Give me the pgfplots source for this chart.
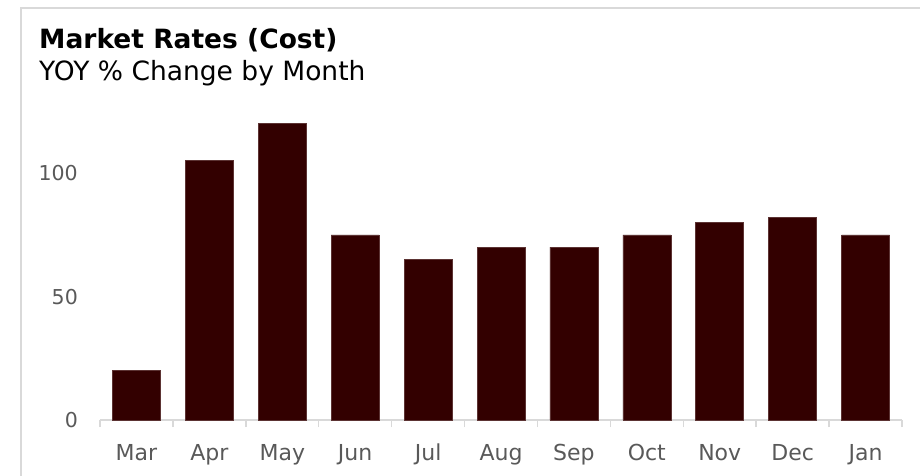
\documentclass[border=0pt]{standalone}
\usepackage{pgfplots}
\pgfplotsset{compat=1.18}
\usepackage{fontspec}
\setmainfont{DejaVu Sans}
\definecolor{barcol}{HTML}{330000}
\definecolor{framegray}{HTML}{D9D9D9}
\definecolor{ticktext}{HTML}{595959}
\begin{document}
\begin{tikzpicture}
\useasboundingbox (-100pt,-55pt) rectangle (820pt,420pt);
% frame (only top and left edges are visible)
\draw[framegray, line width=2pt] (-79pt,-60pt) -- (-79pt,412pt) -- (830pt,412pt);
\node[anchor=base west, inner sep=0pt, font=\fontsize{26.5}{30}\selectfont\bfseries] at (-61pt,372pt) {Market Rates (Cost)};
\node[anchor=base west, inner sep=0pt, font=\fontsize{26.5}{30}\selectfont] at (-61pt,340pt) {YOY \% Change by Month};
\begin{axis}[
    at={(0,0)}, anchor=south west,
    scale only axis,
    width=802pt, height=321pt,
    xmin=-0.5, xmax=10.5,
    ymin=0, ymax=130,
    ybar, bar width=48pt,
    axis x line*=bottom,
    axis y line*=left,
    y axis line style={draw=none},
    x axis line style={framegray, line width=1.5pt},
    xtick={0,...,10},
    xticklabels={Mar,Apr,May,Jun,Jul,Aug,Sep,Oct,Nov,Dec,Jan},
    minor xtick={-0.5,0.5,...,10.5},
    major tick length=0pt,
    minor tick length=7pt,
    xtick align=outside,
    every minor tick/.style={framegray, line width=1.5pt},
    ytick={0,50,100},
    tick label style={text=ticktext, inner sep=0pt},
    xticklabel style={font=\fontsize{22}{24}\selectfont, anchor=base, yshift=-40pt},
    yticklabel style={font=\fontsize{20.5}{24}\selectfont, anchor=east, xshift=-22pt},
    /pgf/number format/assume math mode=true,
    clip=false,
]
\addplot[fill=barcol, draw=barcol!80!white, line width=0.5pt] coordinates {
    (0,20) (1,105) (2,120) (3,75) (4,65) (5,70)
    (6,70) (7,75) (8,80) (9,82) (10,75)};
\end{axis}
\end{tikzpicture}
\end{document}
